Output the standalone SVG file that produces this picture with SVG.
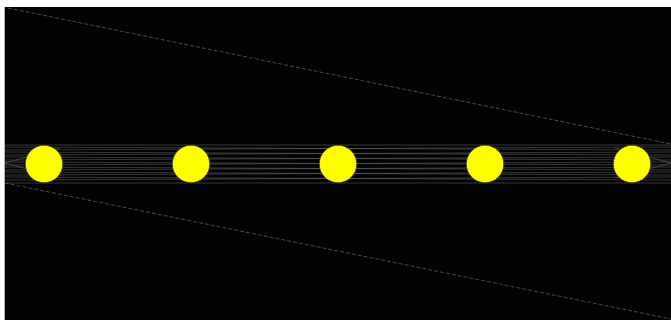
<svg xmlns="http://www.w3.org/2000/svg" width="671" height="320" viewBox="0 0 671 320">
  <style>
    .ray { stroke: #8a8a8a; stroke-width: 0.8; stroke-opacity: 0.5; fill: none; }
    .edge { stroke: #777777; stroke-width: 0.6; stroke-dasharray: 4 2; fill: none; }
    .sun { fill: #ffff00; stroke: #2a2a00; stroke-width: 0.6; }
  </style>
  <rect x="0" y="0" width="671" height="320" fill="#ffffff"/>
  <rect x="4" y="7" width="1" height="313" fill="#b0b0b0"/>
  <rect x="5" y="7" width="666" height="313" fill="#020202"/>
  <g id="connectors">
    <line class="edge" x1="8" y1="8" x2="671" y2="144"/>
    <line class="edge" x1="5" y1="183" x2="671" y2="319"/>
    <line class="ray" x1="5" y1="145" x2="671" y2="145"/>
    <line class="ray" x1="5" y1="147" x2="671" y2="150"/>
    <line class="ray" x1="5" y1="150" x2="671" y2="147"/>
    <line class="ray" x1="5" y1="152" x2="671" y2="155"/>
    <line class="ray" x1="5" y1="155" x2="671" y2="152"/>
    <line class="ray" x1="5" y1="157" x2="671" y2="160"/>
    <line class="ray" x1="5" y1="160" x2="671" y2="157"/>
    <line class="ray" x1="5" y1="162" x2="671" y2="165"/>
    <line class="ray" x1="5" y1="165" x2="671" y2="162"/>
    <line class="ray" x1="5" y1="167" x2="671" y2="170"/>
    <line class="ray" x1="5" y1="170" x2="671" y2="167"/>
    <line class="ray" x1="5" y1="172" x2="671" y2="175"/>
    <line class="ray" x1="5" y1="175" x2="671" y2="172"/>
    <line class="ray" x1="5" y1="177" x2="671" y2="180"/>
    <line class="ray" x1="5" y1="180" x2="671" y2="177"/>
    <line class="ray" x1="5" y1="183" x2="671" y2="183"/>
    <line class="ray" x1="5" y1="163" x2="60" y2="148"/>
    <line class="ray" x1="5" y1="163" x2="60" y2="178"/>
    <line class="ray" x1="671" y1="163" x2="615" y2="148"/>
    <line class="ray" x1="671" y1="163" x2="615" y2="178"/>
  </g>
  <g id="nodes">
    <g id="n1"><circle class="sun" cx="44" cy="164" r="18.7"/></g>
    <g id="n2"><circle class="sun" cx="191" cy="164" r="18.7"/></g>
    <g id="n3"><circle class="sun" cx="338" cy="164" r="18.7"/></g>
    <g id="n4"><circle class="sun" cx="485" cy="164" r="18.7"/></g>
    <g id="n5"><circle class="sun" cx="632" cy="164" r="18.7"/></g>
  </g>
</svg>
